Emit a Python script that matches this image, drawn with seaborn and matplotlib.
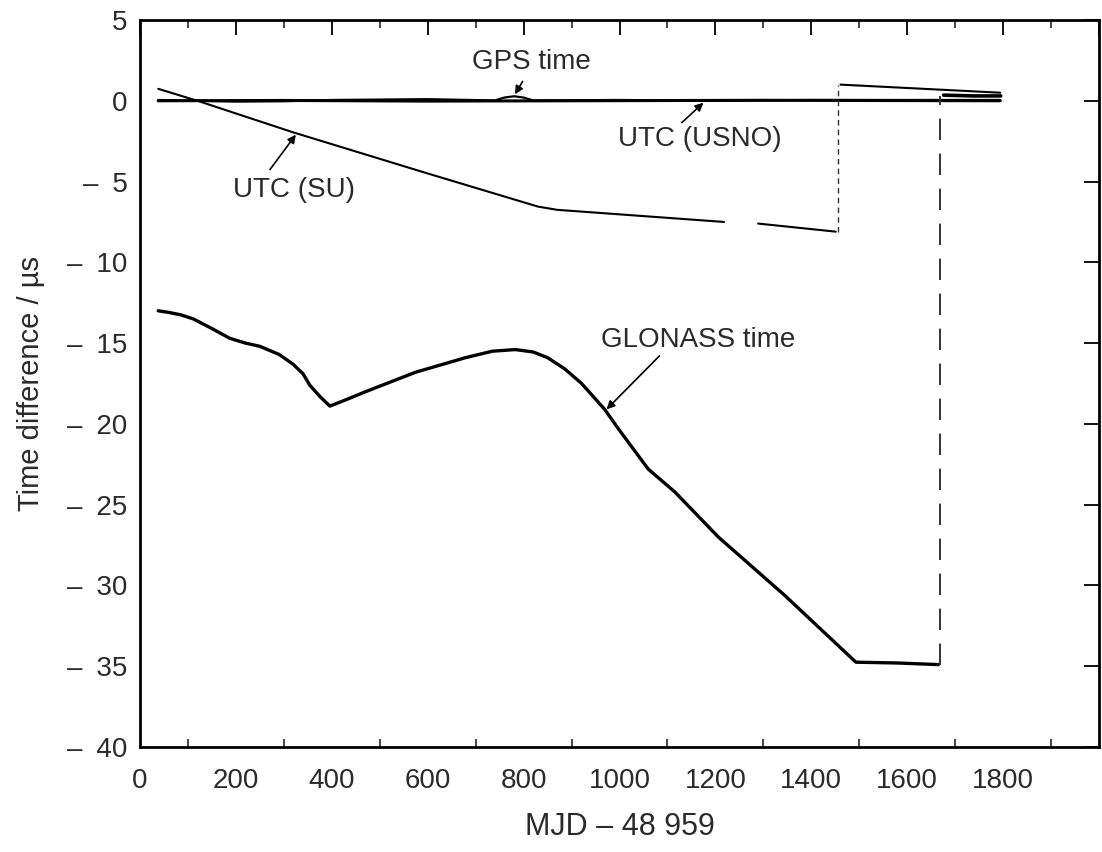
import matplotlib
matplotlib.use("Agg")
import matplotlib.pyplot as plt
import seaborn as sns
import pandas as pd
from matplotlib.ticker import MultipleLocator, FixedLocator

# ---------------- data ----------------
glonass_x = [38, 60, 85, 111, 150, 187, 220, 250, 290, 319, 340, 354, 375, 396,
             430, 471, 575, 679, 735, 783, 820, 850, 886, 921, 945, 969, 1000,
             1030, 1060, 1115, 1206, 1344, 1493, 1580, 1665]
glonass_y = [-13.0, -13.1, -13.25, -13.5, -14.1, -14.7, -15.0, -15.2, -15.7, -16.3,
             -16.9, -17.6, -18.3, -18.9, -18.5, -18.0, -16.8, -15.9, -15.5, -15.4,
             -15.55, -15.9, -16.6, -17.5, -18.3, -19.1, -20.4, -21.6, -22.8, -24.2,
             -27.0, -30.6, -34.75, -34.8, -34.9]
glonass_jump_x = [1669, 1669]
glonass_jump_y = [-34.9, 0.3]
glonass_after_x = [1676, 1740, 1795]
glonass_after_y = [0.35, 0.3, 0.3]

su_seg1_x = [38, 125, 319, 600, 830, 870, 1218]
su_seg1_y = [0.74, -0.05, -1.95, -4.5, -6.55, -6.75, -7.5]
su_seg2_x = [1289, 1451]
su_seg2_y = [-7.6, -8.1]
su_jump_x = [1455, 1455]
su_jump_y = [-8.1, 1.0]
su_seg3_x = [1461, 1794]
su_seg3_y = [1.0, 0.5]

usno_x = [38, 300, 600, 900, 1300, 1794]
usno_y = [0.0, 0.02, -0.02, 0.0, 0.03, 0.0]

gps_x = [38, 200, 300, 400, 600, 740, 760, 780, 800, 820, 1000, 1200, 1400, 1600, 1794]
gps_y = [0.05, -0.05, -0.03, 0.05, 0.1, 0.02, 0.2, 0.28, 0.2, 0.02, 0.05, 0.0, 0.05, 0.05, 0.05]

x_ticks = [0, 200, 400, 600, 800, 1000, 1200, 1400, 1600, 1800]
y_ticks = [5, 0, -5, -10, -15, -20, -25, -30, -35, -40]
y_tick_labels = ["5", "0"] + ["\u2013\u2002" + str(abs(v)) for v in y_ticks[2:]]

labels = {
    "GPS time": ((817, 2.4), (798, 1.2), (782, 0.4)),
    "UTC (USNO)": ((1168, -2.35), (1130, -1.35), (1175, -0.12)),
    "UTC (SU)": ((321, -5.5), (271, -4.26), (325, -2.1)),
    "GLONASS time": ((1163, -14.8), (1083, -15.8), (973, -19.1)),
}

# ---------------- style ----------------
sns.set_style("white")
plt.rcParams["font.family"] = ["Liberation Sans", "DejaVu Sans"]
FS = 20
TXT = "#2a2a2a"

fig = plt.figure(figsize=(11.02, 8.52), dpi=100)
ax = fig.add_axes([140 / 1102, 105 / 852, (1099 - 140) / 1102, (747 - 20) / 852])


def seg(x, y, **kw):
    df = pd.DataFrame({"x": x, "y": y})
    sns.lineplot(data=df, x="x", y="y", ax=ax, sort=False, estimator=None,
                 color="black", legend=False, **kw)


seg(usno_x, usno_y, linewidth=2.2)
seg(gps_x, gps_y, linewidth=1.6)
seg(su_seg1_x, su_seg1_y, linewidth=1.5)
seg(su_seg2_x, su_seg2_y, linewidth=1.5)
seg(su_seg3_x, su_seg3_y, linewidth=1.5)
seg(glonass_x, glonass_y, linewidth=2.4)
seg(glonass_after_x, glonass_after_y, linewidth=2.6)

ax.plot(su_jump_x, su_jump_y, color="#333333", linewidth=1.0, dashes=(4, 3))
ax.plot(glonass_jump_x, glonass_jump_y, color="#333333", linewidth=1.4, dashes=(11, 7))

for txt, (pos, tail, head) in labels.items():
    ax.text(pos[0], pos[1], txt, ha="center", va="center", fontsize=FS, color=TXT)
    ax.annotate("", xy=head, xytext=tail,
                arrowprops=dict(arrowstyle="-|>", color="black", lw=1.2,
                                mutation_scale=12, shrinkA=0, shrinkB=0))

ax.set_xlim(0, 2000)
ax.set_ylim(-40, 5)
ax.xaxis.set_major_locator(FixedLocator(x_ticks + [2000]))
ax.set_xticklabels([str(v) for v in x_ticks] + [""])
ax.xaxis.set_minor_locator(MultipleLocator(100))
ax.set_yticks(y_ticks)
ax.set_yticklabels(y_tick_labels)

ax.tick_params(axis="both", which="major", direction="in", length=11, width=1.3,
               top=True, right=True, labelsize=FS, colors="black", labelcolor=TXT)
ax.tick_params(axis="x", which="major", pad=15)
ax.tick_params(axis="y", which="major", pad=9)
ax.tick_params(axis="x", which="minor", direction="in", length=6, width=1.2,
               top=True, bottom=True)
for sp in ax.spines.values():
    sp.set_visible(True)
    sp.set_linewidth(2.0)
    sp.set_color("black")

ax.set_xlabel("MJD \u2013 48 959", fontsize=22, color=TXT, labelpad=13)
ax.set_ylabel("Time difference / \u00b5s", fontsize=21, color=TXT, labelpad=16)

fig.savefig("out.png", dpi=100, facecolor="white")
